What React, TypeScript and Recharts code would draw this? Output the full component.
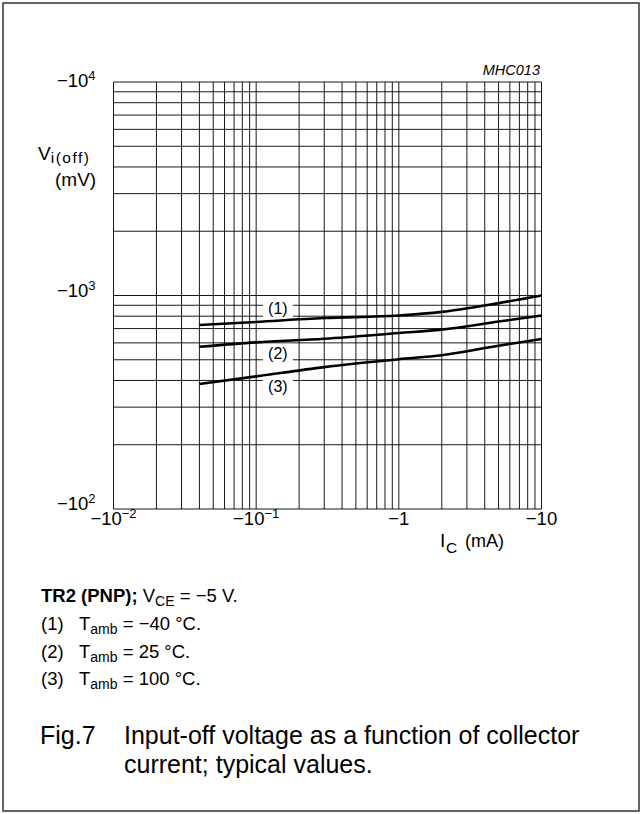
import { CartesianGrid, Line, LineChart, ReferenceDot, XAxis, YAxis } from "recharts";

// collector current I_C (mA, magnitude) and input-off voltage V_i(off) (mV, magnitude)
const currentMA = [0.04, 0.1, 0.3, 1, 2, 5, 10];
const vOffMinus40 = [727, 752, 784, 806, 838, 921, 1000];
const vOff25 = [575, 603, 627, 667, 692, 755, 806];
const vOff100 = [385, 418, 462, 503, 525, 582, 625];

const curveNames = ["(1)", "(2)", "(3)"];
const curveLabelI = [0.142, 0.142, 0.142];
const curveLabelV = [866, 533, 374];

const xTicks = [0.01, 0.1, 1, 10];
const xTickBase = ["\u221210", "\u221210", "\u22121", "\u221210"];
const xTickExp = ["\u22122", "\u22121", "", ""];
const yTicks = [100, 1000, 10000];
const yTickBase = ["\u221210", "\u221210", "\u221210"];
const yTickExp = ["2", "3", "4"];

const xDecades = [0.01, 0.1, 1];
const yDecades = [100, 1000];
const mantissas = [1, 2, 3, 4, 5, 6, 7, 8, 9];

const decadeGrid = (decades: number[], last: number) => [
  ...decades.flatMap((d) => mantissas.map((m) => Number((d * m).toPrecision(3)))),
  last,
];
const xGrid = decadeGrid(xDecades, 10);
const yGrid = decadeGrid(yDecades, 10000);

const series = [vOffMinus40, vOff25, vOff100].map((vals) =>
  currentMA.map((i, k) => ({ i, v: vals[k] }))
);

const FONT = "'Liberation Sans', Arial, Helvetica, sans-serif";

function XTick({ x, y, payload }: any) {
  const k = xTicks.indexOf(payload.value);
  return (
    <text x={x} y={y + 8} textAnchor="middle" fontFamily={FONT} fontSize={18.5} fill="#000">
      {xTickBase[k]}
      {xTickExp[k] && (
        <tspan dy={-7} fontSize={13}>
          {xTickExp[k]}
        </tspan>
      )}
    </text>
  );
}

function YTick({ x, y, payload }: any) {
  const k = yTicks.indexOf(payload.value);
  const dy = payload.value === 10000 ? 5 : 1;
  return (
    <text x={x - 10} y={y + dy} textAnchor="end" fontFamily={FONT} fontSize={18.5} fill="#000">
      {yTickBase[k]}
      <tspan dy={-7} fontSize={13}>
        {yTickExp[k]}
      </tspan>
    </text>
  );
}

function CurveLabel(name: string) {
  return (p: any) => (
    <g>
      <rect x={p.cx - 15} y={p.cy - 10} width={30} height={19} fill="#fff" />
      <text x={p.cx} y={p.cy + 5.5} textAnchor="middle" fontFamily={FONT} fontSize={16} fill="#000">
        {name}
      </text>
    </g>
  );
}

export default function App() {
  return (
    <div style={{ position: "absolute", left: 0, top: 0, width: 642, height: 814, background: "#fff" }}>
      <LineChart
        width={642}
        height={814}
        margin={{ top: 82, right: 100.5, bottom: 275, left: 53.5 }}
      >
        <CartesianGrid
          horizontalValues={yGrid}
          verticalValues={xGrid}
          stroke="#000"
          strokeWidth={1}
          strokeOpacity={0.9}
        />
        <XAxis
          dataKey="i"
          type="number"
          scale="log"
          domain={[0.01, 10]}
          ticks={xTicks}
          interval={0}
          allowDataOverflow
          axisLine={false}
          tickLine={false}
          height={30}
          tick={<XTick />}
        />
        <YAxis
          type="number"
          scale="log"
          domain={[100, 10000]}
          ticks={yTicks}
          interval={0}
          allowDataOverflow
          axisLine={false}
          tickLine={false}
          width={60}
          tick={<YTick />}
        />
        {series.map((s, k) => (
          <Line
            key={k}
            data={s}
            dataKey="v"
            type="monotone"
            stroke="#000"
            strokeWidth={2.6}
            dot={false}
            isAnimationActive={false}
          />
        ))}
        {curveNames.map((n, k) => (
          <ReferenceDot
            key={n}
            x={curveLabelI[k]}
            y={curveLabelV[k]}
            r={0}
            shape={CurveLabel(n)}
          />
        ))}
      </LineChart>

      <svg
        width={642}
        height={814}
        style={{ position: "absolute", left: 0, top: 0, pointerEvents: "none" }}
        fontFamily={FONT}
        fill="#000"
      >
        <rect x={3} y={3} width={636} height={808} fill="none" stroke="#333" strokeWidth={1.5} />
        <text x={540} y={75} textAnchor="end" fontSize={14.5} fontStyle="italic">
          MHC013
        </text>
        <text x={38} y={160} fontSize={19}>
          V
          <tspan dy={3} fontSize={15.5} letterSpacing={1.5}>
            i(off)
          </tspan>
        </text>
        <text x={55} y={186} fontSize={19}>
          (mV)
        </text>
        <text x={440} y={547} fontSize={19}>
          I
        </text>
        <text x={446} y={553} fontSize={15.5}>
          C
        </text>
        <text x={465} y={547} fontSize={18}>
          (mA)
        </text>

        <text x={41} y={602} fontSize={18.5}>
          <tspan fontWeight="bold">TR2 (PNP);</tspan> V
          <tspan dy={4} fontSize={14}>
            CE
          </tspan>
          <tspan dy={-4}> = {"\u2212"}5 V.</tspan>
        </text>
        {["= \u221240 \u00b0C.", "= 25 \u00b0C.", "= 100 \u00b0C."].map((t, k) => (
          <text key={k} y={630 + k * 27.7} fontSize={18.5}>
            <tspan x={41}>{curveNames[k]}</tspan>
            <tspan x={79}>T</tspan>
            <tspan dy={4} fontSize={14}>
              amb
            </tspan>
            <tspan dy={-4}> {t}</tspan>
          </text>
        ))}

        <text x={40} y={744} fontSize={25}>
          Fig.7
        </text>
        <text x={124} y={744} fontSize={25}>
          Input-off voltage as a function of collector
        </text>
        <text x={124} y={773} fontSize={25}>
          current; typical values.
        </text>
      </svg>
    </div>
  );
}
